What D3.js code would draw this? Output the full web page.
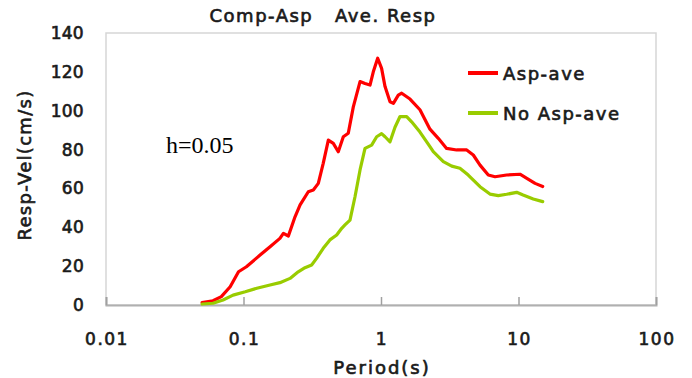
<!DOCTYPE html>
<html>
<head>
<meta charset="utf-8">
<script src="https://cdn.jsdelivr.net/npm/d3@7"></script>
<style>
  html, body { margin: 0; padding: 0; background: #fff; }
  svg { display: block; }
  .lbl { font-family: "DejaVu Sans", sans-serif; fill: #1a1a1a; stroke: #1a1a1a; stroke-width: 0.65px; }
</style>
</head>
<body>
<div id="chart"></div>
<script>
// period (s) / response velocity (cm/s)
const aspPeriod = [0.05, 0.06, 0.069, 0.08, 0.092, 0.105, 0.132, 0.156, 0.184, 0.195, 0.212, 0.237, 0.258, 0.296, 0.322, 0.35, 0.38, 0.414, 0.45, 0.489, 0.532, 0.578, 0.629, 0.704, 0.765, 0.832, 0.879, 0.946, 1.01, 1.07, 1.163, 1.23, 1.336, 1.414, 1.625, 1.92, 2.27, 2.61, 3.0, 3.55, 4.2, 4.69, 5.25, 6.03, 6.75, 8.2, 10.25, 11.5, 13.2, 15];
const aspVel = [1.2, 2.2, 4.3, 9.4, 17.1, 19.7, 25.7, 30, 34.3, 36.9, 35.5, 45.4, 51.5, 58.3, 59.2, 62.6, 72.9, 84.9, 83.2, 78.9, 86.6, 88.4, 102, 115, 114, 113.2, 120, 127, 121.8, 112.4, 104.6, 103.8, 108, 109, 106, 100.5, 90.5, 85.8, 80.6, 79.8, 79.8, 77.2, 72, 66.9, 66, 66.9, 67.3, 65.2, 62.6, 61];

const noAspPeriod = [0.05, 0.06, 0.071, 0.084, 0.103, 0.125, 0.156, 0.184, 0.218, 0.25, 0.28, 0.313, 0.34, 0.38, 0.425, 0.476, 0.518, 0.547, 0.595, 0.647, 0.704, 0.765, 0.855, 0.93, 1.01, 1.07, 1.163, 1.264, 1.375, 1.537, 1.67, 1.92, 2.27, 2.4, 2.84, 3.27, 3.75, 4.31, 5.25, 6.2, 7.13, 8.2, 9.7, 10.8, 12.8, 15];
const noAspVel = [0.5, 0.9, 2.6, 5.1, 6.8, 8.6, 10.3, 11.5, 13.7, 17.1, 19.2, 20.6, 24, 29.2, 33.5, 36, 39.5, 41.2, 43.7, 55.7, 69.5, 80.6, 82.3, 86.6, 88.2, 86.6, 84, 91.5, 97, 97, 94.3, 89, 81.5, 78.9, 73.8, 71.5, 70.4, 66.9, 60.9, 57.1, 56.3, 57, 58, 56.6, 54.6, 53.2];

const xTicks = [0.01, 0.1, 1, 10, 100];
const xTickLabels = ["0.01", "0.1", "1", "10", "100"];
const yTicks = [0, 20, 40, 60, 80, 100, 120, 140];

const seriesNames = ["Asp-ave", "No Asp-ave"];
const seriesColors = ["#ff0000", "#99cc00"];

const width = 692, height = 378;
const margin = {top: 33, right: 36, bottom: 73, left: 106};

const svg = d3.select("#chart").append("svg")
    .attr("width", width)
    .attr("height", height);

const x = d3.scaleLog().domain([0.01, 100]).range([margin.left, width - margin.right]);
const y = d3.scaleLinear().domain([0, 140]).range([height - margin.bottom, margin.top]);

// plot frame
svg.append("rect")
    .attr("x", x(0.01)).attr("y", y(140))
    .attr("width", x(100) - x(0.01)).attr("height", y(0) - y(140))
    .attr("fill", "none")
    .attr("stroke", "#d6d6d6")
    .attr("stroke-width", 1.5);

// bottom axis with inward ticks
const xAxis = svg.append("g")
    .attr("transform", `translate(0,${y(0)})`)
    .call(d3.axisBottom(x).tickValues(xTicks).tickSize(-8).tickFormat(""));
xAxis.select(".domain").attr("stroke", "#b0b0b0").attr("stroke-width", 2);
xAxis.selectAll(".tick line").attr("stroke", "#a0a0a0").attr("stroke-width", 1.5);

// tick labels
svg.selectAll(".xlab")
    .data(xTicks)
    .join("text")
    .attr("class", "lbl")
    .attr("x", d => x(d) + 1)
    .attr("y", 345)
    .attr("text-anchor", "middle")
    .style("font-size", "17px")
    .style("letter-spacing", "1.5px")
    .text((d, i) => xTickLabels[i]);

svg.selectAll(".ylab")
    .data(yTicks)
    .join("text")
    .attr("class", "lbl")
    .attr("x", 84)
    .attr("y", d => y(d) + 6)
    .attr("text-anchor", "end")
    .style("font-size", "17px")
    .style("letter-spacing", "0.3px")
    .text(d => d);

// title and axis titles
svg.append("text")
    .attr("class", "lbl")
    .attr("x", 323).attr("y", 22)
    .attr("text-anchor", "middle")
    .style("font-size", "18px")
    .style("letter-spacing", "1.5px")
    .style("white-space", "pre")
    .text("Comp-Asp   Ave. Resp");

svg.append("text")
    .attr("class", "lbl")
    .attr("x", x(1) + 1).attr("y", 374)
    .attr("text-anchor", "middle")
    .style("font-size", "18px")
    .style("letter-spacing", "2px")
    .text("Period(s)");

svg.append("text")
    .attr("class", "lbl")
    .attr("transform", `translate(31,${(y(0) + y(140)) / 2 - 4}) rotate(-90)`)
    .attr("text-anchor", "middle")
    .style("font-size", "18px")
    .style("letter-spacing", "1.3px")
    .text("Resp-Vel(cm/s)");

svg.append("text")
    .attr("x", 166).attr("y", 153)
    .style("font-family", "'Liberation Serif', 'Times New Roman', serif")
    .style("font-size", "24px")
    .style("fill", "#000")
    .text("h=0.05");

// curves
const line = d3.line()
    .x(d => x(d[0]))
    .y(d => y(d[1]));

const series = [
    d3.zip(aspPeriod, aspVel),
    d3.zip(noAspPeriod, noAspVel)
];

svg.selectAll(".curve")
    .data(series)
    .join("path")
    .attr("class", "curve")
    .attr("d", line)
    .attr("fill", "none")
    .attr("stroke", (d, i) => seriesColors[i])
    .attr("stroke-width", 3.2)
    .attr("stroke-linejoin", "round")
    .attr("stroke-linecap", "round");

// legend
const legend = svg.selectAll(".legend")
    .data(seriesNames)
    .join("g")
    .attr("transform", (d, i) => `translate(468,${73 + i * 40})`);

legend.append("line")
    .attr("x1", 0).attr("x2", 30)
    .attr("stroke", (d, i) => seriesColors[i])
    .attr("stroke-width", 4);

legend.append("text")
    .attr("class", "lbl")
    .attr("x", 35).attr("y", 7)
    .style("font-size", "18px")
    .style("letter-spacing", "1.5px")
    .text(d => d);
</script>
</body>
</html>
